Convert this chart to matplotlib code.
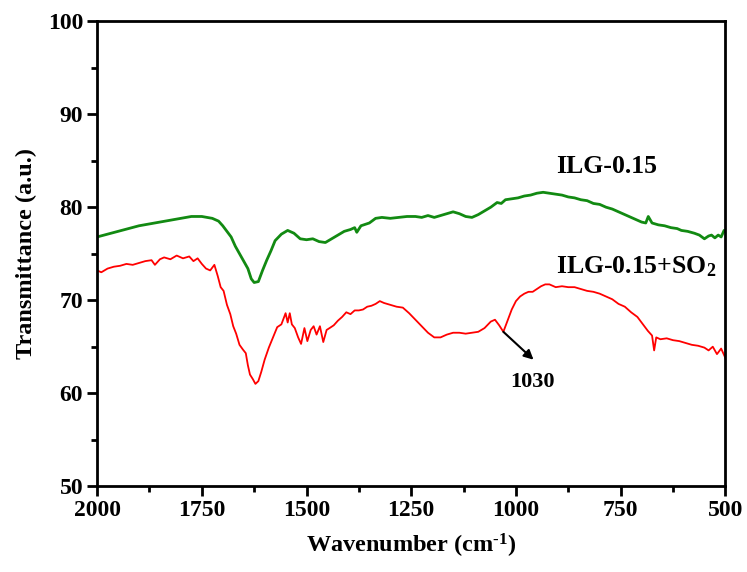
import matplotlib
matplotlib.use("Agg")
import matplotlib.pyplot as plt
from matplotlib.ticker import MultipleLocator

plt.rcParams["font.family"] = ["Liberation Serif", "DejaVu Serif"]
plt.rcParams["font.weight"] = "bold"
plt.rcParams["mathtext.fontset"] = "custom"
plt.rcParams["mathtext.rm"] = "Liberation Serif:bold"
plt.rcParams["mathtext.bf"] = "Liberation Serif:bold"
plt.rcParams["mathtext.it"] = "Liberation Serif:bold:italic"
plt.rcParams["axes.unicode_minus"] = False

# FTIR spectrum of ILG-0.15
wn_ilg = [2000, 1975, 1950, 1925, 1900, 1875, 1850, 1825, 1800, 1775, 1750, 1725,
          1710, 1700, 1690, 1680, 1670, 1660, 1650, 1640, 1632, 1625, 1615, 1605,
          1595, 1585, 1575, 1560, 1545, 1530, 1515, 1500, 1485, 1470, 1455, 1440,
          1425, 1410, 1395, 1385, 1380, 1370, 1350, 1335, 1320, 1300, 1280, 1260,
          1240, 1225, 1210, 1195, 1180, 1165, 1150, 1135, 1120, 1105, 1090, 1075,
          1060, 1045, 1035, 1025, 1010, 995, 980, 965, 950, 935, 920, 905, 890,
          875, 860, 845, 830, 815, 800, 785, 770, 755, 740, 725, 710, 700, 690,
          684, 675, 660, 645, 630, 615, 605, 590, 574, 562, 550, 540, 533, 525,
          517, 510, 503, 500]
t_ilg = [76.8, 77.1, 77.4, 77.7, 78.0, 78.2, 78.4, 78.6, 78.8, 79.0, 79.0, 78.8,
         78.5, 78.0, 77.4, 76.8, 75.8, 75.0, 74.2, 73.4, 72.3, 71.9, 72.0, 73.2,
         74.3, 75.3, 76.4, 77.1, 77.5, 77.2, 76.6, 76.5, 76.6, 76.3, 76.2, 76.6,
         77.0, 77.4, 77.6, 77.8, 77.3, 78.0, 78.3, 78.8, 78.9, 78.8, 78.9, 79.0,
         79.0, 78.9, 79.1, 78.9, 79.1, 79.3, 79.5, 79.3, 79.0, 78.9, 79.2, 79.6,
         80.0, 80.5, 80.4, 80.8, 80.9, 81.0, 81.2, 81.3, 81.5, 81.6, 81.5, 81.4, 81.3,
         81.1, 81.0, 80.8, 80.7, 80.4, 80.3, 80.0, 79.8, 79.5, 79.2, 78.9, 78.6, 78.4, 78.3,
         79.0, 78.3, 78.1, 78.0, 77.8, 77.7, 77.5, 77.4, 77.2, 77.0, 76.6, 76.9, 77.0, 76.7,
         77.0, 76.8, 77.5, 77.4]

# FTIR spectrum of ILG-0.15 after SO2 uptake
wn_so2 = [2000, 1990, 1975, 1960, 1945, 1930, 1915, 1900, 1885, 1870, 1862, 1850,
          1840, 1825, 1810, 1795, 1780, 1770, 1760, 1750, 1740, 1730, 1720, 1712,
          1705, 1698, 1690, 1682, 1675, 1668, 1660, 1652, 1645, 1640, 1635, 1628,
          1622, 1615, 1608, 1600, 1590, 1580, 1570, 1560, 1550, 1545, 1540, 1535,
          1528, 1520, 1513, 1505, 1498, 1490, 1483, 1476, 1468, 1460, 1452, 1445,
          1435, 1425, 1415, 1405, 1395, 1385, 1375, 1365, 1355, 1345, 1335, 1325,
          1315, 1300, 1285, 1270, 1255, 1240, 1225, 1210, 1195, 1180, 1165, 1150,
          1135, 1120, 1105, 1090, 1075, 1060, 1050, 1040, 1030, 1020, 1010, 1000,
          990, 980, 970, 960, 950, 940, 930, 920, 905, 890, 875, 860, 845, 830,
          815, 800, 785, 770, 755, 740, 725, 710, 695, 685, 675, 670, 665, 655,
          640, 625, 610, 595, 580, 565, 550, 540, 530, 520, 510, 500]
t_so2 = [73.2, 73.0, 73.4, 73.6, 73.7, 73.9, 73.8, 74.0, 74.2, 74.3, 73.8, 74.4,
         74.6, 74.4, 74.8, 74.5, 74.7, 74.2, 74.5, 73.9, 73.4, 73.2, 73.8, 72.6,
         71.4, 71.0, 69.5, 68.5, 67.2, 66.4, 65.2, 64.7, 64.3, 63.0, 62.0, 61.5,
         61.0, 61.3, 62.3, 63.6, 64.9, 66.0, 67.1, 67.4, 68.6, 67.6, 68.6, 67.4,
         67.0, 66.0, 65.3, 67.0, 65.6, 66.8, 67.2, 66.3, 67.2, 65.5, 66.8, 67.0,
         67.3, 67.8, 68.2, 68.7, 68.5, 68.9, 68.9, 69.0, 69.3, 69.4, 69.6, 69.9,
         69.7, 69.5, 69.3, 69.2, 68.6, 67.9, 67.2, 66.5, 66.0, 66.0, 66.3, 66.5,
         66.5, 66.4, 66.5, 66.6, 67.0, 67.7, 67.9, 67.3, 66.6, 67.8, 69.0, 69.9,
         70.4, 70.7, 70.9, 70.9, 71.2, 71.5, 71.7, 71.7, 71.4, 71.5, 71.4, 71.4, 71.2, 71.0,
         70.9, 70.7, 70.4, 70.1, 69.6, 69.3, 68.7, 68.2, 67.3, 66.7, 66.2, 64.6, 66.0, 65.8,
         65.9, 65.7, 65.6, 65.4, 65.2, 65.1, 64.9, 64.6, 65.0, 64.2, 64.8, 63.8]

peak_wn, peak_t = 1030, 66.6

fig = plt.figure(figsize=(7.47, 5.72), dpi=100)
ax = fig.add_axes([0.130, 0.150, 0.841, 0.813])

ax.plot(wn_ilg, t_ilg, color="#128a12", lw=2.0)
ax.plot(wn_so2, t_so2, color="#ff0000", lw=1.3)

ax.set_xlim(2000, 500)
ax.set_ylim(50, 100)
ax.xaxis.set_major_locator(MultipleLocator(250))
ax.xaxis.set_minor_locator(MultipleLocator(125))
ax.yaxis.set_major_locator(MultipleLocator(10))
ax.yaxis.set_minor_locator(MultipleLocator(5))

for s in ax.spines.values():
    s.set_linewidth(2.0)
ax.tick_params(which="major", direction="out", length=7, width=2.0,
               labelsize=17, top=False, right=False, pad=3)
ax.tick_params(which="minor", direction="out", length=4, width=2.0,
               top=False, right=False)

ax.set_xlabel(r"Wavenumber (cm$^{\text{-}1}$)", fontsize=17.5, fontweight="bold", labelpad=8)
ax.set_ylabel("Transmittance (a.u.)", fontsize=17.5, fontweight="bold", labelpad=8)

ax.text(905, 84.4, "ILG-0.15", fontsize=18.5, fontweight="bold", ha="left", va="center")
ax.text(905, 73.6, "ILG-0.15+SO$_2$", fontsize=18.5, fontweight="bold", ha="left", va="center")

ax.annotate("", xy=(958, 63.6), xytext=(peak_wn, peak_t),
            arrowprops=dict(arrowstyle="-|>", color="black", lw=1.5,
                            mutation_scale=14, shrinkA=0, shrinkB=0))
ax.text(960, 61.2, str(peak_wn), fontsize=16, fontweight="bold", ha="center", va="center")

fig.savefig("out.png", dpi=100)
